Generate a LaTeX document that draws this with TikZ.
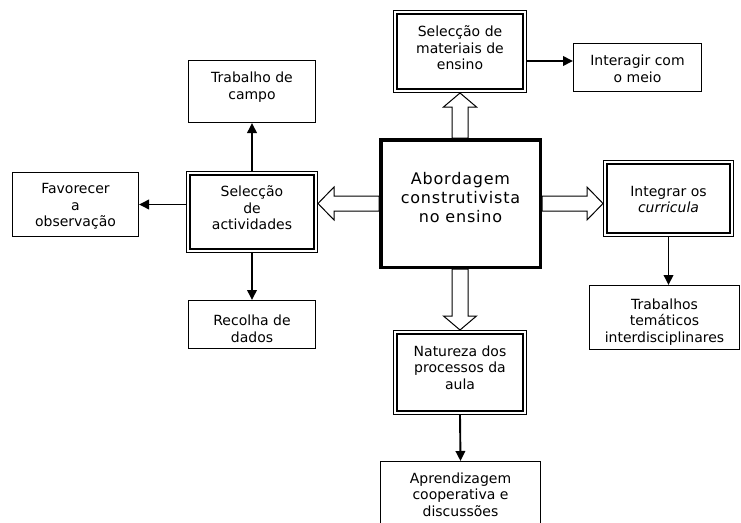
\documentclass[tikz,border=0pt]{standalone}
\usepackage{fontspec}
\setmainfont{DejaVu Sans}
\newfontfamily\widefont[LetterSpace=5]{DejaVu Sans}
\usetikzlibrary{calc,arrows.meta}
\begin{document}
\begin{tikzpicture}[x=1pt,y=-1pt,
  box/.style={draw=black, line width=1pt, fill=white, inner sep=0pt},
  dbox/.style={draw=black, line width=1.2pt, fill=white, inner sep=0pt},
  mainbox/.style={draw=black, line width=3.5pt, fill=white, inner sep=0pt},
  txt/.style={anchor=north, inner sep=0pt, align=center, font=\fontsize{14}{16.5}\selectfont},
  maintxt/.style={anchor=north, inner sep=0pt, align=center, font=\widefont\fontsize{16}{19}\selectfont},
  arr/.style={line width=1.9pt, -{Triangle[length=10pt,width=9.5pt]}},
  hollow/.style={draw=black, line width=1pt, fill=white, line join=miter}
]
\useasboundingbox (0,0) rectangle (741,522);
\clip (0,0) rectangle (741,522);

% box outlines (positions)
\path
  (460.5,203.5) node[mainbox, minimum width=159.5pt, minimum height=127.5pt] (ctr) {}
  (460,51.5)    node[dbox, minimum width=132.8pt, minimum height=81.8pt] (mat) {}
  (252,212)     node[dbox, minimum width=130.8pt, minimum height=80.8pt] (act) {}
  (668.5,198.5) node[dbox, minimum width=129.8pt, minimum height=75.8pt] (integ) {}
  (460,372.5)   node[dbox, minimum width=132.8pt, minimum height=83.8pt] (nat) {};

% hollow arrows
\draw[hollow] ($(mat.south |- ctr.north)+(-8,0)$) -- ($(mat.south)+(-8,14)$) -- ($(mat.south)+(-16.5,14)$)
  -- (mat.south) -- ($(mat.south)+(16.5,14)$) -- ($(mat.south)+(8,14)$) -- ($(mat.south |- ctr.north)+(8,0)$) -- cycle;
\draw[hollow] ($(nat.north |- ctr.south)+(-8,0)$) -- ($(nat.north)+(-8,-14)$) -- ($(nat.north)+(-16.5,-14)$)
  -- (nat.north) -- ($(nat.north)+(16.5,-14)$) -- ($(nat.north)+(8,-14)$) -- ($(nat.north |- ctr.south)+(8,0)$) -- cycle;
\coordinate (lt) at (act.east |- ctr.west);
\draw[hollow] ($(ctr.west)+(0,-7.5)$) -- ($(lt)+(16,-7.5)$) -- ($(lt)+(16,-16.5)$)
  -- (lt) -- ($(lt)+(16,16.5)$) -- ($(lt)+(16,7.5)$) -- ($(ctr.west)+(0,7.5)$) -- cycle;
\coordinate (rt) at (integ.west |- ctr.east);
\draw[hollow] ($(ctr.east)+(0,-7.5)$) -- ($(rt)+(-16,-7.5)$) -- ($(rt)+(-16,-16.5)$)
  -- (rt) -- ($(rt)+(-16,16.5)$) -- ($(rt)+(-16,7.5)$) -- ($(ctr.east)+(0,7.5)$) -- cycle;

% boxes drawn over arrow ends
\node[mainbox, minimum width=159.5pt, minimum height=127.5pt] at (ctr) {};
\foreach \n/\w/\h in {mat/132.8/81.8, act/130.8/80.8, integ/129.8/75.8, nat/132.8/83.8}{
  \node[dbox, minimum width=\w pt, minimum height=\h pt] at (\n) {};
  \draw[line width=2pt] ($(\n.north west)+(4.3,4.3)$) rectangle ($(\n.south east)+(-4.3,-4.3)$);
}
\node[box, minimum width=127pt, minimum height=62pt] (trab) at (252,91.5) {};
\node[box, minimum width=126pt, minimum height=64pt] (fav) at (75.5,204.5) {};
\node[box, minimum width=127pt, minimum height=48pt] (rec) at (252,324.5) {};
\node[box, minimum width=128pt, minimum height=48pt] (inter) at (637.5,67.5) {};
\node[box, minimum width=150pt, minimum height=64pt] (temat) at (664.5,317.5) {};
\node[box, minimum width=160pt, minimum height=78pt] (aprend) at (460.5,500.5) {};

% texts
\node[maintxt] (tctr) at ($(ctr.north)+(0,33)$) {\strut Abordagem\\construtivista\\no ensino};
\node[txt] (tmat) at ($(mat.north)+(0,15)$) {\strut Selecção de\\materiais de\\ensino};
\node[txt] (tact) at ($(act.north)+(0,14)$) {\strut Selecção\\de\\actividades};
\node[txt] (tinteg) at ($(integ.north)+(0,24.5)$) {\strut Integrar os\\\textit{curricula}};
\node[txt] (tnat) at ($(nat.north)+(0,14.7)$) {\strut Natureza dos\\processos da\\aula};
\node[txt] (ttrab) at ($(trab.north)+(0,11)$) {\strut Trabalho de\\campo};
\node[txt] (tfav) at ($(fav.north)+(0,10)$) {\strut Favorecer\\a\\observação};
\node[txt] (trec) at ($(rec.north)+(0,14)$) {\strut Recolha de\\dados};
\node[txt] (tinter) at ($(inter.north)+(0,11)$) {\strut Interagir com\\o meio};
\node[txt] (ttemat) at ($(temat.north)+(0,12.5)$) {\strut Trabalhos\\temáticos\\interdisciplinares};
\node[txt] (taprend) at ($(aprend.north)+(0,10.5)$) {\strut Aprendizagem\\cooperativa e\\discussões};

% thin arrows
\draw[arr] (act.north) -- (trab.south);
\draw[arr] (act.west |- fav.east) -- (fav.east);
\draw[arr] (act.south) -- (rec.north);
\coordinate (m1) at ($(mat.east)+(0,9.5)$);
\draw[arr] (m1) -- (m1 -| inter.west);
\draw[arr] (integ.south) -- (integ.south |- temat.north);
\draw[arr] (nat.south) -- (aprend.north);
\end{tikzpicture}
\end{document}
